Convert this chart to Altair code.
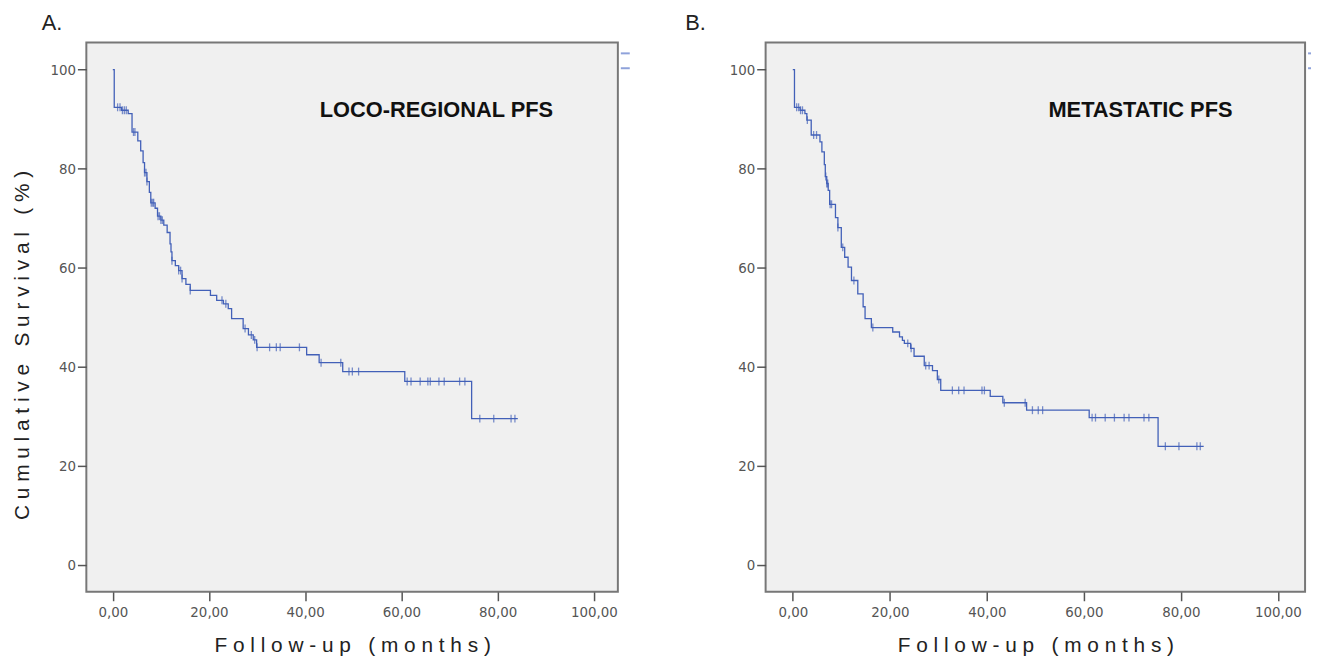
import altair as alt
import pandas as pd
import numpy as np

# ---------------- data ----------------
# Panel A: loco-regional PFS (Kaplan-Meier steps: time in months, survival %)
a_time = [0, 0.3, 1.8, 3.2, 4.0, 5.2, 5.8, 6.3, 6.6, 7.1, 7.6, 7.9, 8.8, 9.3, 10.0,
          10.6, 11.3, 11.9, 12.1, 12.3, 13.0, 13.7, 14.4, 15.2, 16.1, 20.3, 21.6,
          23.0, 24.0, 24.7, 27.1, 28.2, 29.2, 29.9, 40.3, 42.9, 47.8, 60.7, 74.6, 84.2]
a_surv = [100, 92.4, 91.8, 91.1, 87.4, 85.6, 83.6, 81.2, 79.2, 77.4, 75.2, 73.1, 72.0,
          70.4, 69.6, 68.6, 67.1, 64.8, 63.2, 61.4, 60.4, 59.4, 57.8, 56.6, 55.4, 54.4,
          53.4, 52.7, 51.7, 49.7, 47.7, 46.4, 45.4, 43.9, 42.4, 40.8, 39.0, 37.0, 29.5, 29.5]
a_censored = [1.0, 1.5, 2.0, 2.4, 2.8, 4.3, 4.6, 6.6, 6.9, 7.1, 8.0, 8.3, 8.5, 9.4, 9.7,
              10.0, 10.3, 12.3, 13.7, 14.1, 14.4, 16.1, 22.7, 23.5, 27.5, 28.8, 29.5,
              30.0, 32.6, 34.0, 34.8, 38.8, 43.3, 47.4, 49.1, 49.8, 51.1, 61.2, 62.0,
              63.9, 65.5, 66.0, 67.8, 68.9, 72.1, 73.2, 76.3, 79.2, 82.8, 83.6]

# Panel B: metastatic PFS
b_time = [0, 0.35, 1.5, 2.5, 2.9, 3.8, 5.6, 6.0, 6.5, 6.7, 7.0, 7.3, 7.6, 8.8, 9.3,
          10.0, 10.7, 11.4, 12.1, 13.4, 14.5, 14.9, 16.2, 20.6, 22.0, 22.6, 23.0,
          24.3, 25.0, 27.1, 28.8, 29.8, 30.5, 40.7, 43.3, 48.2, 61.1, 75.3, 84.7]
b_surv = [100, 92.4, 91.8, 91.1, 89.8, 86.8, 85.4, 83.4, 80.8, 78.4, 77.0, 75.6, 72.8,
          70.1, 68.1, 64.1, 62.1, 60.1, 57.4, 54.7, 52.1, 49.7, 47.9, 47.0, 46.0, 45.3,
          44.7, 43.7, 42.1, 40.2, 39.2, 37.4, 35.2, 34.0, 32.7, 31.2, 29.7, 23.9, 23.9]
b_censored = [0.8, 1.2, 1.6, 2.0, 3.0, 4.3, 4.9, 6.8, 7.0, 7.2, 7.7, 8.0, 9.3, 10.3,
              12.6, 16.5, 23.7, 24.4, 27.4, 28.1, 30.1, 32.9, 34.2, 35.3, 39.0, 39.5,
              43.6, 47.9, 49.4, 50.6, 51.5, 61.7, 62.4, 64.4, 66.3, 68.3, 69.3, 72.4,
              73.4, 76.8, 79.6, 83.3, 84.0]

panel_letters = ["A.", "B."]
panel_labels = ["LOCO-REGIONAL PFS", "METASTATIC PFS"]
x_ticks = [0, 20, 40, 60, 80, 100]
y_ticks = [0, 20, 40, 60, 80, 100]
x_title = "Follow-up (months)"
y_title = "Cumulative Survival (%)"

# ---------------- helpers ----------------
BLUE = "#4260b8"
NB = "\u00a0"


def spaced(s):
    return NB.join(list(s))


def steps(times, survs):
    return pd.DataFrame({"t": times, "s": survs})


def censors(times, survs, cens):
    idx = np.searchsorted(np.array(times), np.array(cens), side="right") - 1
    return pd.DataFrame({"t": cens, "s": [survs[i] for i in idx]})


LABEL_FONT = "Liberation Sans Narrow, DejaVu Sans Condensed, Liberation Sans"


def panel(times, survs, cens, letter, label, xdom, width, label_x, title_dx,
          show_ytitle, remnant_x, remnant_w):
    xs = alt.Scale(domain=xdom, nice=False, zero=False)
    ys = alt.Scale(domain=[-5.5, 105.5], nice=False, zero=False)
    xaxis = alt.Axis(values=x_ticks, labelExpr="replace(format(datum.value, '.2f'), '.', ',')",
                     title=spaced(x_title), titleY=54, titleBaseline="middle",
                     grid=False, domain=False)
    if show_ytitle:
        yaxis = alt.Axis(values=y_ticks, format="d", title=spaced(y_title), titleAngle=270,
                         titleX=-64, titleY=305, titleBaseline="middle", titleAlign="center",
                         grid=False, domain=False)
    else:
        yaxis = alt.Axis(values=y_ticks, format="d", title=None, grid=False, domain=False)

    line = alt.Chart(steps(times, survs)).mark_line(
        interpolate="step-after", color=BLUE, strokeWidth=1.3
    ).encode(x=alt.X("t:Q", scale=xs, axis=xaxis), y=alt.Y("s:Q", scale=ys, axis=yaxis))

    ticks = alt.Chart(censors(times, survs, cens)).mark_tick(
        orient="vertical", color=BLUE, size=8, thickness=1.3
    ).encode(x=alt.X("t:Q", scale=xs), y=alt.Y("s:Q", scale=ys))

    txt = alt.Chart(pd.DataFrame({"label": [label]})).mark_text(
        font="Liberation Sans", fontWeight="bold", fontSize=22, color="#111",
        align="center", baseline="middle"
    ).encode(x=alt.value(label_x), y=alt.value(68), text="label:N")

    # tiny remnants of a cropped legend at the right edge of the frame
    rem1 = alt.Chart(pd.DataFrame({"k": [0]})).mark_rule(
        color="#8fa2da", strokeWidth=2
    ).encode(x=alt.value(remnant_x), x2=alt.value(remnant_x + remnant_w), y=alt.value(11))
    rem2 = alt.Chart(pd.DataFrame({"k": [0]})).mark_rule(
        color="#8fa2da", strokeWidth=2
    ).encode(x=alt.value(remnant_x), x2=alt.value(remnant_x + remnant_w), y=alt.value(26))

    return alt.layer(line, ticks, txt, rem1, rem2).properties(
        width=width, height=554,
        title=alt.TitleParams(letter, anchor="start", frame="group", dx=title_dx,
                              fontSize=22, fontWeight="normal", font="Liberation Sans",
                              color="#222", offset=-9, baseline="alphabetic"),
    )


pa = panel(a_time, a_surv, a_censored, panel_letters[0], panel_labels[0],
           [-5.5, 105.0], 536, 353, -45, True, 539, 9)
pb = panel(b_time, b_surv, b_censored, panel_letters[1], panel_labels[1],
           [-5.6, 105.6], 544, 378, -81, False, 547, 3)

chart = alt.hconcat(pa, pb, spacing=149, bounds="flush").properties(
    padding={"left": 3, "top": 0, "right": 0, "bottom": 0}, background="white"
).configure_view(
    fill="#f0f0f0", stroke="#777777", strokeWidth=2
).configure_axis(
    labelFont=LABEL_FONT, labelFontSize=15, labelColor="#555555",
    tickColor="#555555", tickSize=9, tickWidth=1.5,
    titleFont="Liberation Sans", titleFontSize=21, titleFontWeight="normal", titleColor="#222222",
).configure_axisX(labelPadding=4).configure_axisY(labelPadding=2)

chart.save("out.html", embed_options={"renderer": "svg", "actions": False})
